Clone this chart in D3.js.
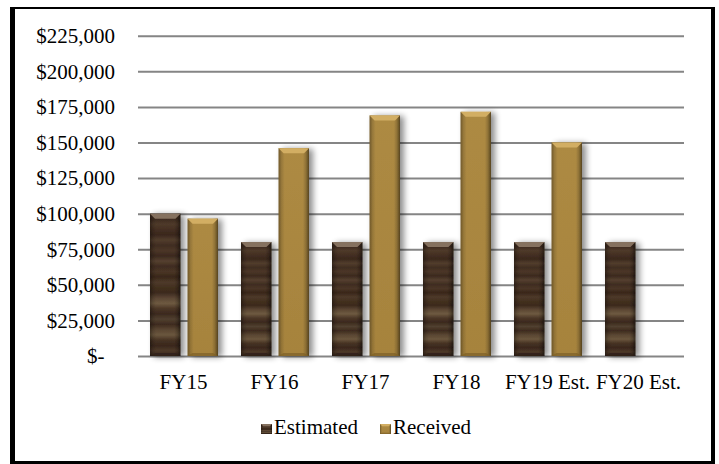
<!DOCTYPE html>
<html>
<head>
<meta charset="utf-8">
<script src="https://cdn.jsdelivr.net/npm/d3@7/dist/d3.min.js"></script>
<style>
  html, body { margin: 0; padding: 0; background: #fff; }
  svg text { font-family: "Liberation Serif", "Times New Roman", serif; fill: #000; font-weight: normal; }
</style>
</head>
<body>
<svg id="chart" width="719" height="464"></svg>
<script>
// Fiscal-year funding: estimated vs. received
const categories = ["FY15", "FY16", "FY17", "FY18", "FY19 Est.", "FY20 Est."];
const seriesNames = ["Estimated", "Received"];
const estimated = [100000, 80000, 80000, 80000, 80000, 80000];
const received  = [96500, 146000, 169000, 171500, 150000, null];
const yTicks = [0, 25000, 50000, 75000, 100000, 125000, 150000, 175000, 200000, 225000];

const svg = d3.select("#chart");

// frame
svg.append("rect").attr("x", 10).attr("y", 7).attr("width", 705).attr("height", 457).attr("fill", "#000");
svg.append("rect").attr("x", 15).attr("y", 9).attr("width", 696).attr("height", 452).attr("fill", "#fff");

const plot = { left: 138, right: 684, top: 35.7, bottom: 356 };

const x0 = d3.scaleBand().domain(categories).range([plot.left, plot.right]).padding(0);
const x1 = d3.scaleBand().domain(seriesNames).range([12, 80]).paddingInner(0.19);
const y = d3.scaleLinear().domain([0, 225000]).range([plot.bottom, plot.top]);

const defs = svg.append("defs");

// soft drop shadow behind the bars
const sh = defs.append("filter").attr("id", "shadow")
  .attr("x", "-40%").attr("y", "-10%").attr("width", "200%").attr("height", "120%");
sh.append("feGaussianBlur").attr("in", "SourceAlpha").attr("stdDeviation", 3.2).attr("result", "b");
sh.append("feOffset").attr("in", "b").attr("dx", 3.5).attr("dy", 1).attr("result", "o");
sh.append("feComponentTransfer").attr("in", "o").attr("result", "s")
  .append("feFuncA").attr("type", "linear").attr("slope", 0.45);
const mg = sh.append("feMerge");
mg.append("feMergeNode").attr("in", "s");
mg.append("feMergeNode").attr("in", "SourceGraphic");

// wood-grain texture for the estimated bars: thin horizontal streaks
const wood = defs.append("linearGradient").attr("id", "wood")
  .attr("x1", 0).attr("y1", 0).attr("x2", 0).attr("y2", 1);
const grain = ["#4a3526", "#3d2b1f", "#4f3a2a", "#442f22", "#3a281d", "#523d2d", "#402d21", "#4b3627",
  "#3b291e", "#55402f", "#3f2c20", "#4a3526", "#392719", "#4e392a", "#43301f", "#3c2a1e",
  "#5b4633", "#6e5a40", "#4c3727", "#3b291e", "#514030", "#3e2b1f", "#5a4632", "#6a563d",
  "#463223", "#3a281d", "#4d3828", "#35251b"];
grain.forEach((c, i) => wood.append("stop").attr("offset", i / (grain.length - 1)).attr("stop-color", c));

const gold = defs.append("linearGradient").attr("id", "gold")
  .attr("x1", 0).attr("y1", 0).attr("x2", 0).attr("y2", 1);
[[0, "#ad8a43"], [1, "#a6833d"]].forEach(([o, c]) => gold.append("stop").attr("offset", o).attr("stop-color", c));

// side shading that gives the bevel look
const edge = defs.append("linearGradient").attr("id", "edge")
  .attr("x1", 0).attr("y1", 0).attr("x2", 1).attr("y2", 0);
[[0, "#000", 0.35], [0.1, "#000", 0.12], [0.2, "#000", 0], [0.8, "#000", 0], [0.9, "#000", 0.18], [1, "#000", 0.5]]
  .forEach(([o, c, a]) => edge.append("stop").attr("offset", o).attr("stop-color", c).attr("stop-opacity", a));

const fills = { Estimated: "url(#wood)", Received: "url(#gold)" };
const topLight = { Estimated: "#85715f", Received: "#d2ae63" };
const bottomDark = { Estimated: "#2e2018", Received: "#7d5f26" };

// gridlines
const grid = svg.append("g").attr("transform", `translate(${plot.left},0)`)
  .call(d3.axisLeft(y).tickValues(yTicks).tickSize(-(plot.right - plot.left)).tickFormat(""));
grid.select(".domain").remove();
grid.selectAll(".tick line").attr("stroke", "#858585").attr("stroke-width", 2);

// y-axis labels in accounting style
const fmt = d3.format(",");
const yAxis = svg.append("g").attr("transform", `translate(${plot.left},0)`)
  .call(d3.axisLeft(y).tickValues(yTicks).tickSize(0).tickPadding(23)
    .tickFormat(d => d === 0 ? "$-\u00a0\u00a0" : "$" + fmt(d)));
yAxis.select(".domain").remove();
yAxis.selectAll("text").attr("font-size", 21).attr("dy", "0.33em").attr("fill", "#111")
  .style("font-family", "'Liberation Serif', 'Times New Roman', serif");

// x-axis labels
const xAxis = svg.append("g").attr("transform", `translate(0,${plot.bottom})`)
  .call(d3.axisBottom(x0).tickSize(0).tickPadding(18));
xAxis.select(".domain").remove();
xAxis.selectAll("text").attr("font-size", 21).attr("dy", "0.71em").attr("fill", "#111")
  .style("font-family", "'Liberation Serif', 'Times New Roman', serif");

// bevelled bar
function drawBar(g, bx, by, bw, bh, name) {
  const b = Math.min(5, bw / 5, bh / 3);
  g.append("rect").attr("x", bx).attr("y", by).attr("width", bw).attr("height", bh).attr("fill", fills[name]);
  g.append("rect").attr("x", bx).attr("y", by).attr("width", bw).attr("height", bh).attr("fill", "url(#edge)");
  g.append("path").attr("d", `M${bx},${by}L${bx + bw},${by}L${bx + bw - b},${by + b}L${bx + b},${by + b}Z`)
    .attr("fill", topLight[name]);
  g.append("path").attr("d", `M${bx},${by + bh}L${bx + bw},${by + bh}L${bx + bw - b},${by + bh - b * 0.6}L${bx + b},${by + bh - b * 0.6}Z`)
    .attr("fill", bottomDark[name]).attr("opacity", 0.7);
}

const rows = categories.map((c, i) => ({ cat: c, Estimated: estimated[i], Received: received[i] }));
const bars = svg.append("g");
rows.forEach(r => {
  seriesNames.forEach(s => {
    if (r[s] == null) return;
    const g = bars.append("g").attr("filter", "url(#shadow)");
    const bx = x0(r.cat) + x1(s);
    const by = y(r[s]);
    drawBar(g, bx, by, x1.bandwidth(), y(0) - by, s);
  });
});

// legend
const legend = svg.append("g");
const legendX = [261, 380];
seriesNames.forEach((s, i) => {
  const g = legend.append("g");
  drawBar(g, legendX[i], 424, 11, 10, s);
  g.append("text").attr("x", legendX[i] + 13).attr("y", 434).attr("font-size", 21).attr("fill", "#111").text(s);
});
</script>
</body>
</html>
